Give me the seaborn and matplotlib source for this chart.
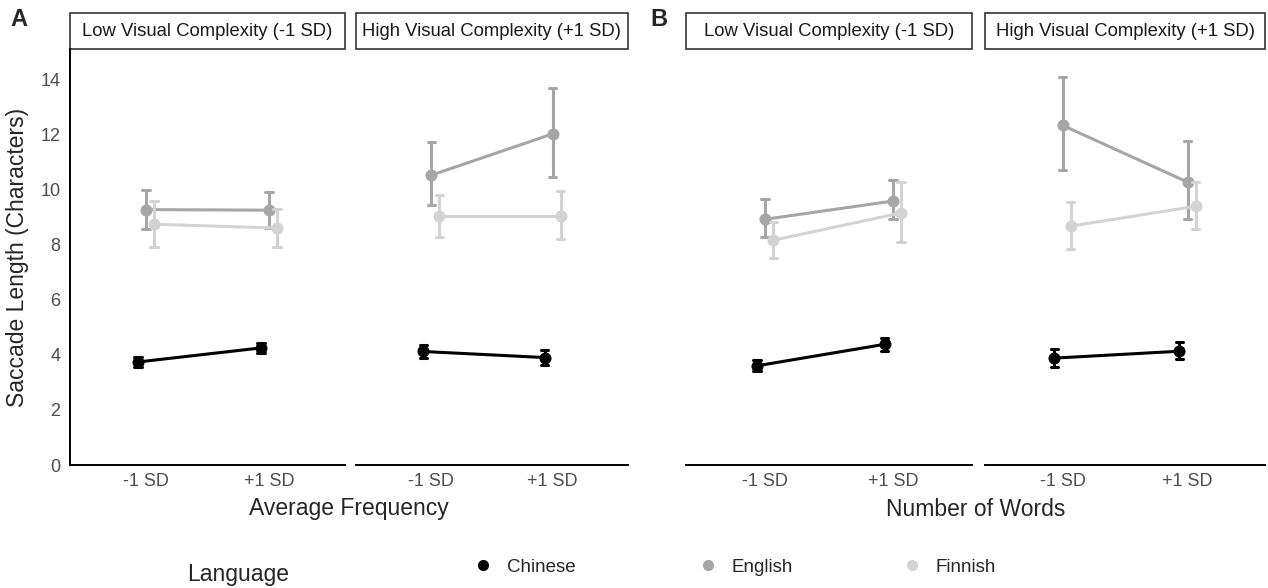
import numpy as np
import pandas as pd
import matplotlib
matplotlib.use("Agg")
import matplotlib.pyplot as plt
import seaborn as sns
from matplotlib.lines import Line2D
from matplotlib.patches import Rectangle

# ---------------- data ----------------
levels = ["-1 SD", "+1 SD"]
languages = ["Chinese", "English", "Finnish"]
lang_colors = ["#000000", "#A6A6A6", "#D3D3D3"]
facet_titles = ["Low Visual Complexity (-1 SD)", "High Visual Complexity (+1 SD)"]
panel_letters = ["A", "B"]
panel_xlabels = ["Average Frequency", "Number of Words"]

# Panel A, low complexity
A_low_chinese_mean = [3.74, 4.25]
A_low_chinese_lo = [3.55, 4.08]
A_low_chinese_hi = [3.93, 4.42]
A_low_english_mean = [9.27, 9.25]
A_low_english_lo = [8.58, 8.62]
A_low_english_hi = [9.98, 9.90]
A_low_finnish_mean = [8.74, 8.60]
A_low_finnish_lo = [7.90, 7.92]
A_low_finnish_hi = [9.60, 9.28]
# Panel A, high complexity
A_high_chinese_mean = [4.12, 3.90]
A_high_chinese_lo = [3.90, 3.63]
A_high_chinese_hi = [4.35, 4.18]
A_high_english_mean = [10.52, 12.02]
A_high_english_lo = [9.43, 10.45]
A_high_english_hi = [11.72, 13.68]
A_high_finnish_mean = [9.03, 9.03]
A_high_finnish_lo = [8.27, 8.20]
A_high_finnish_hi = [9.79, 9.94]
# Panel B, low complexity
B_low_chinese_mean = [3.60, 4.38]
B_low_chinese_lo = [3.42, 4.14]
B_low_chinese_hi = [3.80, 4.60]
B_low_english_mean = [8.92, 9.58]
B_low_english_lo = [8.27, 8.92]
B_low_english_hi = [9.65, 10.34]
B_low_finnish_mean = [8.16, 9.15]
B_low_finnish_lo = [7.50, 8.09]
B_low_finnish_hi = [8.81, 10.27]
# Panel B, high complexity
B_high_chinese_mean = [3.88, 4.13]
B_high_chinese_lo = [3.57, 3.84]
B_high_chinese_hi = [4.20, 4.45]
B_high_english_mean = [12.33, 10.27]
B_high_english_lo = [10.70, 8.92]
B_high_english_hi = [14.10, 11.75]
B_high_finnish_mean = [8.67, 9.39]
B_high_finnish_lo = [7.83, 8.56]
B_high_finnish_hi = [9.54, 10.27]

series = {
    ("A", 0): {"Chinese": (A_low_chinese_lo, A_low_chinese_mean, A_low_chinese_hi),
               "English": (A_low_english_lo, A_low_english_mean, A_low_english_hi),
               "Finnish": (A_low_finnish_lo, A_low_finnish_mean, A_low_finnish_hi)},
    ("A", 1): {"Chinese": (A_high_chinese_lo, A_high_chinese_mean, A_high_chinese_hi),
               "English": (A_high_english_lo, A_high_english_mean, A_high_english_hi),
               "Finnish": (A_high_finnish_lo, A_high_finnish_mean, A_high_finnish_hi)},
    ("B", 0): {"Chinese": (B_low_chinese_lo, B_low_chinese_mean, B_low_chinese_hi),
               "English": (B_low_english_lo, B_low_english_mean, B_low_english_hi),
               "Finnish": (B_low_finnish_lo, B_low_finnish_mean, B_low_finnish_hi)},
    ("B", 1): {"Chinese": (B_high_chinese_lo, B_high_chinese_mean, B_high_chinese_hi),
               "English": (B_high_english_lo, B_high_english_mean, B_high_english_hi),
               "Finnish": (B_high_finnish_lo, B_high_finnish_mean, B_high_finnish_hi)},
}

# long table: lower bound, estimate, upper bound per cell -> median + (min, max)
rows = []
for (panel, facet), d in series.items():
    for lang in languages:
        lo, mu, hi = d[lang]
        for i, lev in enumerate(levels):
            for v in (lo[i], mu[i], hi[i]):
                rows.append(dict(panel=panel, facet=facet, Language=lang, level=lev, value=v))
df = pd.DataFrame(rows)

# ---------------- style ----------------
sns.set_theme(style="white")
plt.rcParams["font.family"] = ["Liberation Sans", "DejaVu Sans"]

W, H = 1268, 588
fig = plt.figure(figsize=(W / 100, H / 100), dpi=100)

ax_top_px, ax_bot_px = 49, 465
facet_px = {("A", 0): (70, 345), ("A", 1): (356, 628),
            ("B", 0): (686, 972), ("B", 1): (985, 1265)}
strip_h_px = 36
palette = dict(zip(languages, lang_colors))

for (panel, facet), (x0, x1) in facet_px.items():
    ax = fig.add_axes([x0 / W, 1 - ax_bot_px / H, (x1 - x0) / W, (ax_bot_px - ax_top_px) / H])
    sub = df[(df.panel == panel) & (df.facet == facet)]
    sns.pointplot(data=sub, x="level", y="value", hue="Language", order=levels,
                  hue_order=languages, palette=palette, estimator="median",
                  errorbar=lambda v: (v.min(), v.max()), dodge=0.13, capsize=0.06,
                  markers="o", markersize=7, linewidth=2.2,
                  err_kws={"linewidth": 2.2}, legend=False, ax=ax)
    ax.set_xlim(-0.62, 1.62)
    ax.set_ylim(0, 15.1)
    ax.set_xlabel("")
    ax.set_ylabel("")
    ax.set_yticks([0, 2, 4, 6, 8, 10, 12, 14])
    ax.tick_params(axis="both", length=0, labelsize=13, colors="#4D4D4D")
    ax.tick_params(axis="x", pad=6)
    ax.tick_params(axis="y", pad=7)
    for s in ["top", "right"]:
        ax.spines[s].set_visible(False)
    ax.spines["bottom"].set_color("black")
    ax.spines["bottom"].set_linewidth(1.4)
    if panel == "A" and facet == 0:
        ax.spines["left"].set_color("black")
        ax.spines["left"].set_linewidth(1.4)
    else:
        ax.spines["left"].set_visible(False)
        ax.set_yticklabels([])
    # strip
    sh = strip_h_px / (ax_bot_px - ax_top_px)
    ax.add_patch(Rectangle((0, 1), 1, sh, transform=ax.transAxes, clip_on=False,
                           facecolor="white", edgecolor="#333333", linewidth=1.2))
    ax.text(0.5, 1 + sh / 2, facet_titles[facet], transform=ax.transAxes,
            ha="center", va="center", fontsize=13.3, color="#1A1A1A")

# axis titles
fig.text(349 / W, 1 - 509 / H, panel_xlabels[0], ha="center", va="center", fontsize=16.5)
fig.text(976 / W, 1 - 509 / H, panel_xlabels[1], ha="center", va="center", fontsize=16.5)
fig.text(18 / W, 1 - 257 / H, "Saccade Length (Characters)", ha="center", va="center",
         rotation=90, fontsize=16.5)
# panel letters
fig.text(19 / W, 1 - 20 / H, panel_letters[0], ha="center", va="center", fontsize=17, fontweight="bold")
fig.text(659 / W, 1 - 20 / H, panel_letters[1], ha="center", va="center", fontsize=17, fontweight="bold")

# legend
fig.text(238 / W, 1 - 575 / H, "Language", ha="center", va="center", fontsize=16.5)
leg_x = {"Chinese": 475, "English": 700, "Finnish": 904}
for lang, col in zip(languages, lang_colors):
    h = Line2D([], [], color=col, marker="o", markersize=7, linestyle="none")
    fig.legend(handles=[h], labels=[lang], loc="center left",
               bbox_to_anchor=(leg_x[lang] / W, 1 - 567 / H), frameon=False,
               fontsize=13.5, handlelength=0.8, handletextpad=0.9, borderaxespad=0,
               borderpad=0)

fig.savefig("out.png", dpi=100, facecolor="white")
